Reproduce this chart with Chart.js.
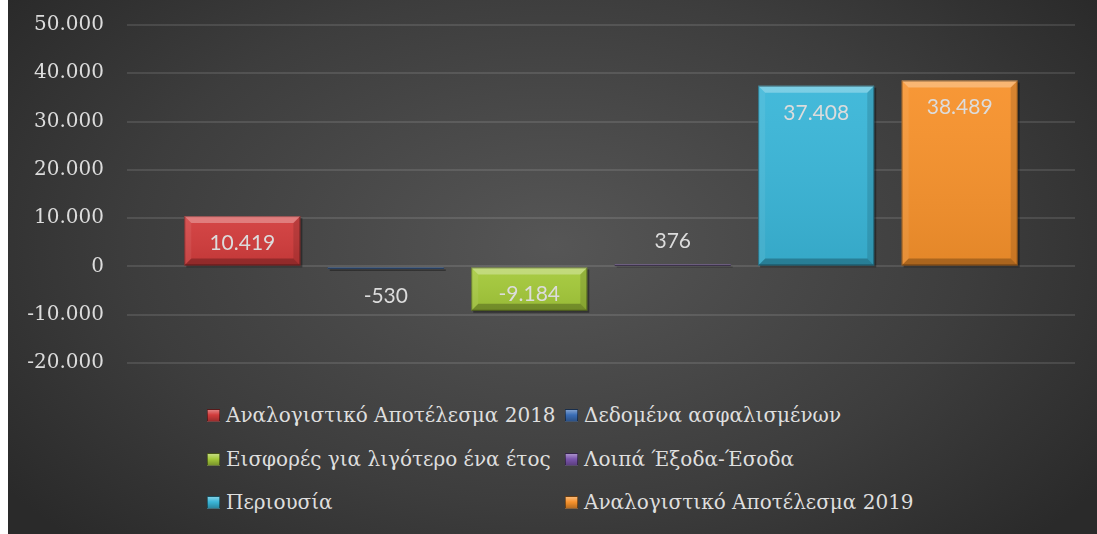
<!DOCTYPE html>
<html>
<head>
<meta charset="utf-8">
<script src="https://cdn.jsdelivr.net/npm/chart.js@4.4.1/dist/chart.umd.min.js"></script>
<style>
html,body{margin:0;padding:0;background:#ffffff;}
#wrap{position:absolute;left:8px;top:0;width:1089px;height:534px;overflow:hidden;
  background:radial-gradient(ellipse 62% 78% at 50% 46%, #565656 0%, #3d3d3d 62%, #2a2a2a 100%);}
#cv{position:absolute;left:0;top:-10px;width:1089px;height:408px;display:block;}
.lgt{position:absolute;font-family:'DejaVu Serif',serif;font-size:20px;color:#dedede;white-space:nowrap;line-height:24px;}
.lgm{position:absolute;width:13px;height:13px;box-sizing:border-box;}
</style>
</head>
<body>
<div id="wrap">
  <canvas id="cv" width="1089" height="408"></canvas>
  <div id="legend"></div>
</div>
<script>
// ---- data ----
const seriesNames = [
  'Αναλογιστικό Αποτέλεσμα 2018',
  'Δεδομένα ασφαλισμένων',
  'Εισφορές για λιγότερο ένα έτος',
  'Λοιπά Έξοδα-Έσοδα',
  'Περιουσία',
  'Αναλογιστικό Αποτέλεσμα 2019'
];
const seriesValues = [10419, -530, -9184, 376, 37408, 38489];
const seriesColors = ['#d23c3c', '#3a6db5', '#a4c93a', '#7b55ad', '#3ab6d8', '#f7922c'];
const yTickValues = [-20000, -10000, 0, 10000, 20000, 30000, 40000, 50000];
const yTickLabels = ['-20.000', '-10.000', '0', '10.000', '20.000', '30.000', '40.000', '50.000'];

function fmt(v){
  const s = Math.abs(v).toString().replace(/\B(?=(\d{3})+(?!\d))/g, '.');
  return (v < 0 ? '-' : '') + s;
}

const datasets = seriesNames.map((n, i) => ({
  label: n,
  data: [seriesValues[i]],
  backgroundColor: seriesColors[i],
  borderWidth: 0,
  categoryPercentage: 0.908,
  barPercentage: 0.809
}));

function barBox(el){
  const p = el.getProps(['x','y','base','width'], true);
  const l = p.x - p.width/2, r = p.x + p.width/2;
  const t = Math.min(p.y, p.base), b = Math.max(p.y, p.base);
  return {l, r, t, b, x: p.x, y: p.y, base: p.base};
}

const shadowPlugin = {
  id: 'shadow',
  beforeDatasetsDraw(chart){
    const ctx = chart.ctx;
    ctx.save();
    chart.data.datasets.forEach((ds, i) => {
      chart.getDatasetMeta(i).data.forEach(el => {
        const B = barBox(el);
        ctx.fillStyle = 'rgba(0,0,0,0.35)';
        ctx.fillRect(B.l + 2, B.t + 2, B.r - B.l, B.b - B.t);
      });
    });
    ctx.restore();
  }
};

const bevelPlugin = {
  id: 'bevel',
  afterDatasetsDraw(chart){
    const ctx = chart.ctx;
    ctx.save();
    chart.data.datasets.forEach((ds, i) => {
      chart.getDatasetMeta(i).data.forEach(el => {
        const B = barBox(el);
        const w = B.r - B.l, h = B.b - B.t;
        const s = Math.min(7, h/2, w/2);
        const g = ctx.createLinearGradient(0, B.t, 0, B.b);
        g.addColorStop(0, 'rgba(255,255,255,0.05)');
        g.addColorStop(1, 'rgba(0,0,0,0.08)');
        ctx.fillStyle = g;
        ctx.fillRect(B.l, B.t, w, h);
        const poly = (pts, col) => {
          ctx.beginPath();
          ctx.moveTo(pts[0][0], pts[0][1]);
          for (let k = 1; k < pts.length; k++) ctx.lineTo(pts[k][0], pts[k][1]);
          ctx.closePath();
          ctx.fillStyle = col;
          ctx.fill();
        };
        poly([[B.l,B.t],[B.r,B.t],[B.r-s,B.t+s],[B.l+s,B.t+s]], 'rgba(255,255,255,0.30)');
        poly([[B.l,B.b],[B.r,B.b],[B.r-s,B.b-s],[B.l+s,B.b-s]], 'rgba(0,0,0,0.25)');
        poly([[B.l,B.t],[B.l+s,B.t+s],[B.l+s,B.b-s],[B.l,B.b]], 'rgba(255,255,255,0.07)');
        poly([[B.r,B.t],[B.r-s,B.t+s],[B.r-s,B.b-s],[B.r,B.b]], 'rgba(0,0,0,0.12)');
        ctx.strokeStyle = 'rgba(0,0,0,0.35)';
        ctx.lineWidth = 1;
        ctx.strokeRect(B.l + 0.5, B.t + 0.5, w - 1, Math.max(h - 1, 0.5));
      });
    });
    ctx.restore();
  }
};

const labelPlugin = {
  id: 'vlabels',
  afterDatasetsDraw(chart){
    const ctx = chart.ctx;
    ctx.save();
    ctx.font = '21px Lato, "Open Sans", sans-serif';
    ctx.fillStyle = '#dcdcdc';
    ctx.textAlign = 'center';
    ctx.textBaseline = 'middle';
    chart.data.datasets.forEach((ds, i) => {
      chart.getDatasetMeta(i).data.forEach((el, j) => {
        const v = ds.data[j];
        const B = barBox(el);
        const h = B.b - B.t;
        let ty;
        if (h > 40) ty = v >= 0 ? B.t + 27 : B.b - 17;
        else ty = v >= 0 ? B.t - 23 : B.b + 27;
        ctx.fillText(fmt(v), B.x, ty);
      });
    });
    ctx.restore();
  }
};

new Chart(document.getElementById('cv'), {
  type: 'bar',
  data: { labels: [''], datasets },
  plugins: [shadowPlugin, bevelPlugin, labelPlugin],
  options: {
    responsive: false,
    maintainAspectRatio: false,
    devicePixelRatio: 1,
    animation: false,
    layout: { padding: { top: 14, right: 22, bottom: 17, left: 0 } },
    plugins: { legend: { display: false }, tooltip: { enabled: false } },
    scales: {
      x: { display: false, grid: { display: false } },
      y: {
        min: -20000, max: 50000,
        afterFit(scale){ scale.width = 119; },
        afterBuildTicks(scale){ scale.ticks = yTickValues.map(v => ({ value: v })); },
        border: { display: false },
        grid: { color: 'rgba(255,255,255,0.11)', lineWidth: 2, drawTicks: false },
        ticks: {
          padding: 23,
          color: '#dcdcdc',
          font: { family: '"DejaVu Serif", serif', size: 20 },
          callback: (v) => { const k = yTickValues.indexOf(v); return k >= 0 ? yTickLabels[k] : ''; }
        }
      }
    }
  }
});

// ---- legend (HTML, two columns, three rows) ----
const lg = document.getElementById('legend');
const colX = [199, 557];
const rowY = [416, 460, 503];
seriesNames.forEach((n, i) => {
  const c = i % 2, r = Math.floor(i / 2);
  const m = document.createElement('div');
  m.className = 'lgm';
  m.style.left = colX[c] + 'px';
  m.style.top = (rowY[r] - 7) + 'px';
  m.style.background = 'linear-gradient(180deg, rgba(255,255,255,0.35) 0%, rgba(255,255,255,0.0) 45%, rgba(0,0,0,0.25) 100%), ' + seriesColors[i];
  m.style.border = '1px solid rgba(0,0,0,0.45)';
  lg.appendChild(m);
  const t = document.createElement('div');
  t.className = 'lgt';
  t.textContent = n;
  t.style.left = (colX[c] + 19) + 'px';
  t.style.top = (rowY[r] - 13) + 'px';
  lg.appendChild(t);
});
</script>
</body>
</html>
